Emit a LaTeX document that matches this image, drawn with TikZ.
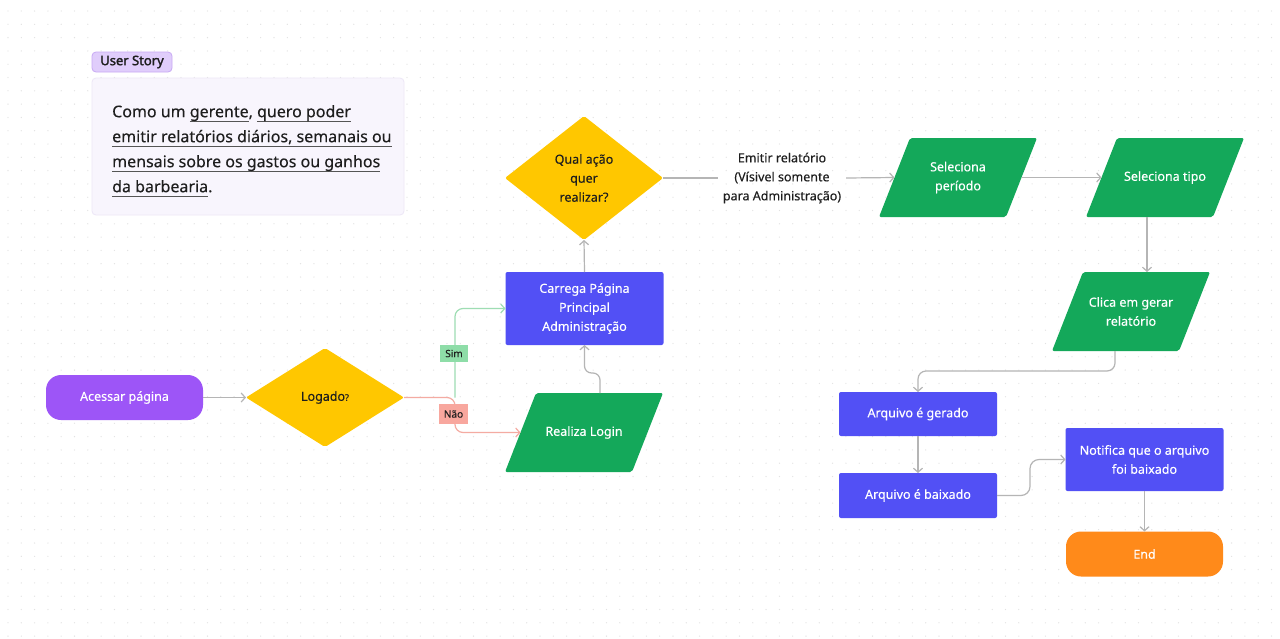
\documentclass[tikz,border=0pt]{standalone}
\usepackage{fontspec}
\setmainfont{Noto Sans}[FakeBold=0.25]
\newfontfamily\tagfont{Noto Sans}[FakeBold=2]
\usetikzlibrary{shapes.geometric,arrows.meta}

\definecolor{dotc}{HTML}{E2E2E2}
\definecolor{ink}{HTML}{1E1E1E}
\definecolor{linegray}{HTML}{B5B5B5}
\definecolor{purp}{HTML}{9D55F7}
\definecolor{yell}{HTML}{FFC700}
\definecolor{blu}{HTML}{5250F5}
\definecolor{grn}{HTML}{14A85A}
\definecolor{orng}{HTML}{FF8A1A}
\definecolor{simfill}{HTML}{8EDDA8}
\definecolor{simline}{HTML}{9EDDB3}
\definecolor{naofill}{HTML}{F8A79E}
\definecolor{naoline}{HTML}{F4ABA2}
\definecolor{tagfill}{HTML}{E0CDFB}
\definecolor{tagline}{HTML}{C8A9F4}
\definecolor{storyfill}{HTML}{F8F5FD}
\definecolor{storyline}{HTML}{EDE7F7}
\definecolor{ulgray}{HTML}{555555}

% underline used for the highlighted words of the story
\newsavebox\ulbox
\newcommand\storyul[1]{\sbox\ulbox{#1}%
  \rlap{\textcolor{ulgray}{\rule[-0.3em]{\wd\ulbox}{0.9pt}}}\usebox\ulbox}

\tikzset{
  base/.style={outer sep=0pt, inner sep=3pt, align=center,
    font=\fontsize{12.5}{19}\selectfont},
  pill/.style={base, text=white, rounded corners=15pt, minimum width=157pt,
    minimum height=45pt},
  proc/.style={base, fill=blu, text=white, rounded corners=2pt,
    minimum width=158pt},
  decision/.style={base, diamond, fill=yell, text=ink, inner sep=0pt,
    minimum width=158pt, rounded corners=2pt},
  slanttext/.style={base, text=white, minimum width=158pt, minimum height=79pt},
  lbl/.style={base, text=ink, inner sep=5pt},
  conn/.style={draw=linegray, line width=1.2pt,
    -{Straight Barb[length=4pt,width=9pt,line width=1.2pt]}},
  flagsim/.style={base, fill=simfill, text=ink, font=\fontsize{10}{12}\selectfont,
    minimum width=28pt, minimum height=17pt, inner sep=1pt},
  flagnao/.style={base, fill=naofill, text=ink, font=\fontsize{10}{12}\selectfont,
    minimum width=29pt, minimum height=20pt, inner sep=1pt},
}

% slanted input/output box: name, centre x, centre y, text
\newcommand\slantbox[4]{%
  \fill[grn, rounded corners=2pt] ({#2-79},{#3+39.5}) -- ({#2-48},{#3-39.5})
     -- ({#2+79},{#3-39.5}) -- ({#2+48},{#3+39.5}) -- cycle;
  \node[slanttext] (#1) at (#2,#3) {#4};}

\begin{document}
\begin{tikzpicture}[x=1pt,y=-1pt]
\useasboundingbox (0,0) rectangle (1280,638);
\fill[white] (0,0) rectangle (1280,638);

% dotted canvas
\foreach \yy in {11,24.3,...,638}
  \draw[dotc, line width=1.3pt, line cap=round, dash pattern=on 0pt off 13.3pt]
    (8,\yy) -- (1280,\yy);

% user story card
\node[base, fill=tagfill, draw=tagline, line width=0.8pt, rounded corners=4pt,
  text=ink, font=\fontsize{13}{15}\tagfont, minimum width=80pt,
  minimum height=20pt, inner sep=2pt] (tag) at (132,62) {User Story};
\node[fill=storyfill, draw=storyline, line width=0.8pt, rounded corners=4pt,
  minimum width=312pt, minimum height=137pt, outer sep=0pt] (story) at (248,146.5) {};
\node[anchor=west, align=left, text=ink, inner sep=0pt,
  font=\fontsize{16}{25}\selectfont] (storytext) at (112,151)
  {Como um \storyul{gerente}, \storyul{quero poder}\\
   \storyul{emitir relatórios diários, semanais ou}\\
   \storyul{mensais sobre os gastos ou ganhos}\\
   \storyul{da barbearia}.};

% flow nodes
\node[pill, fill=purp] (acessar) at (124.5,397.5) {Acessar página};
\node[decision, minimum height=99pt] (logado) at (325,397.5)
  {Logado{\fontsize{9}{10}\selectfont ?}};
\node[proc, minimum height=73pt] (carrega) at (584.5,308.5)
  {Carrega Página\\Principal\\Administração};
\slantbox{realiza}{584}{432.5}{Realiza Login}
\node[decision, minimum height=124pt] (qual) at (584,178)
  {Qual ação\\quer\\realizar?};
\node[lbl] (emitir) at (782,178)
  {Emitir relatório\\(Vísivel somente\\para Administração)};
\slantbox{selper}{958}{177.5}{Seleciona\\período}
\slantbox{seltipo}{1165}{177.5}{Seleciona tipo}
\slantbox{clica}{1131}{311.5}{Clica em gerar\\relatório}
\node[proc, minimum height=44pt] (gerado) at (918,414) {Arquivo é gerado};
\node[proc, minimum height=45pt] (baixado) at (918,495.5) {Arquivo é baixado};
\node[proc, minimum height=63pt] (notifica) at (1144.5,459.5)
  {Notifica que o arquivo\\foi baixado};
\node[pill, fill=orng] (fim) at (1144.5,554) {End};

% connectors
\draw[conn] (acessar) -- (logado);
\coordinate (split) at (455,397.5);
\draw[conn, draw=simline, rounded corners=8pt] (split) |- (carrega.west);
\draw[conn, draw=naoline, rounded corners=8pt] (logado.east) -- (split)
  |- ([xshift=15.5pt]realiza.west);
\draw[conn, rounded corners=7pt] ([xshift=16pt]realiza.north) -- ++(0,-20)
  -| (carrega.south);
\draw[conn] (carrega.north) -- (qual.south);
\draw[draw=linegray, line width=1.2pt] (qual.east) -- (emitir.west);
\draw[conn] (emitir.east) -- ([xshift=15.5pt]selper.west);
\draw[conn] ([xshift=-15.5pt]selper.east) -- ([xshift=15.5pt]seltipo.west);
\draw[conn] ([xshift=-18pt]seltipo.south) -- ([xshift=16pt]clica.north);
\draw[conn, rounded corners=8pt] ([xshift=-16pt]clica.south) -- ++(0,20)
  -| (gerado.north);
\draw[conn] (gerado) -- (baixado);
\draw[conn, rounded corners=9pt] (baixado.east) -- ++(33,0) |- (notifica.west);
\draw[conn] (notifica) -- (fim);

% branch flags
\node[flagsim] (sim) at (454,353.5) {Sim};
\node[flagnao] (nao) at (453.5,414) {Não};
\end{tikzpicture}
\end{document}
